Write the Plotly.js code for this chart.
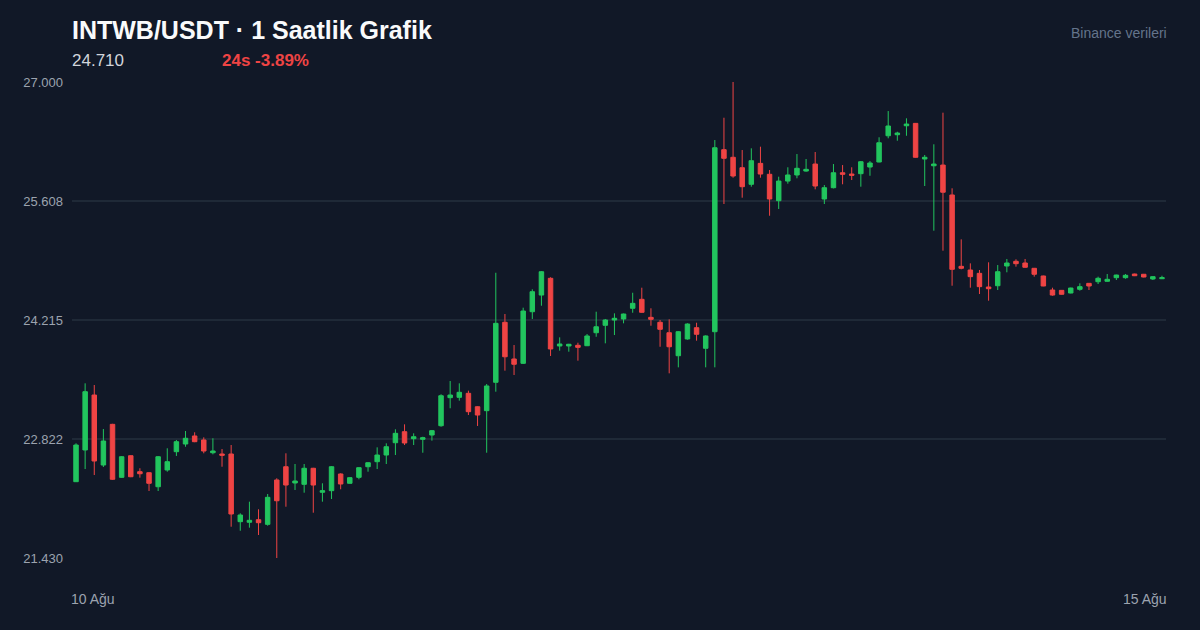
<!DOCTYPE html>
<html>
<head>
<meta charset="utf-8">
<script src="https://cdn.plot.ly/plotly-3.0.1.min.js"></script>
<style>
html,body{margin:0;padding:0;background:#111827;}
#chart{width:1200px;height:630px;}
</style>
</head>
<body>
<div id="chart"></div>
<script>
const titleText = "INTWB/USDT · 1 Saatlik Grafik";
const sourceText = "Binance verileri";
const dateLabels = ["10 Ağu", "15 Ağu"];

const opens = [22.323,22.694,23.337,22.518,22.994,22.374,22.627,22.440,22.428,22.264,
22.460,22.674,22.764,22.858,22.811,22.662,22.647,22.647,21.855,21.848,
21.878,21.824,22.343,22.498,22.308,22.292,22.480,22.199,22.218,22.413,
22.304,22.374,22.498,22.557,22.635,22.779,22.908,22.826,22.819,22.869,
22.978,23.306,23.310,23.357,23.200,23.154,23.486,24.188,23.759,23.708,
24.312,24.507,24.703,23.911,23.911,23.919,23.914,24.066,24.153,24.215,
24.227,24.352,24.457,24.246,24.188,24.066,23.797,23.993,24.125,23.884,
24.078,26.208,26.119,25.997,25.803,26.048,25.920,25.611,25.841,25.912,
25.958,26.040,25.631,25.763,25.938,25.923,25.927,26.005,26.064,26.371,
26.383,26.488,26.516,26.099,26.020,26.028,25.678,24.843,24.800,24.761,
24.601,24.616,24.847,24.902,24.882,24.820,24.730,24.566,24.562,24.531,
24.574,24.644,24.663,24.668,24.710,24.710,24.753,24.750,24.695,24.698];

const highs = [22.772,23.474,23.454,22.939,23.000,22.622,22.632,22.480,22.432,22.622,
22.714,22.811,22.916,22.901,22.842,22.831,22.705,22.752,21.953,22.089,
22.000,22.179,22.363,22.655,22.530,22.530,22.485,22.304,22.505,22.421,
22.375,22.490,22.550,22.725,22.772,22.936,22.994,22.889,22.849,22.928,
23.346,23.501,23.474,23.388,23.205,23.466,24.768,24.285,23.922,24.359,
24.574,24.788,24.715,24.012,23.936,23.949,24.051,24.312,24.227,24.293,
24.290,24.534,24.593,24.352,24.215,24.223,24.085,24.176,24.183,24.036,
26.321,26.582,27.000,26.204,26.224,26.243,25.970,25.892,26.002,26.157,
26.099,26.181,25.794,26.040,26.028,26.002,26.075,26.075,26.353,26.660,
26.418,26.575,26.520,26.146,26.271,26.641,25.756,25.159,24.878,24.800,
24.890,24.858,24.929,24.925,24.929,24.824,24.734,24.593,24.566,24.593,
24.644,24.648,24.722,24.753,24.745,24.753,24.757,24.754,24.725,24.733];

const lows = [22.319,22.471,22.401,22.495,22.345,22.368,22.376,22.370,22.214,22.214,
22.440,22.624,22.732,22.785,22.655,22.643,22.498,21.796,21.749,21.785,
21.699,21.808,21.430,22.030,22.226,22.194,21.960,22.089,22.120,22.234,
22.300,22.351,22.440,22.471,22.530,22.635,22.752,22.752,22.662,22.803,
22.966,23.182,23.271,23.103,22.975,22.662,23.376,23.622,23.571,23.700,
24.227,24.382,23.794,23.856,23.844,23.739,23.910,24.019,23.942,24.039,
24.176,24.300,24.300,24.148,23.902,23.591,23.661,23.985,23.973,23.661,
23.661,25.572,25.880,25.646,25.775,25.880,25.435,25.514,25.810,25.873,
25.950,25.744,25.572,25.755,25.803,25.853,25.775,25.903,26.060,26.341,
26.313,26.371,26.115,25.783,25.260,25.026,24.616,24.808,24.593,24.519,
24.441,24.566,24.773,24.839,24.828,24.722,24.610,24.499,24.512,24.527,
24.558,24.566,24.636,24.664,24.683,24.698,24.729,24.714,24.683,24.694];

const closes = [22.752,23.376,22.565,22.799,22.351,22.615,22.381,22.416,22.304,22.615,
22.557,22.791,22.831,22.791,22.682,22.682,22.632,21.945,21.933,21.871,
21.843,22.140,22.100,22.284,22.331,22.480,22.284,22.218,22.498,22.296,
22.370,22.487,22.545,22.635,22.732,22.889,22.776,22.849,22.838,22.920,
23.329,23.337,23.369,23.142,23.103,23.443,24.176,23.785,23.697,24.320,
24.546,24.780,23.876,23.934,23.931,23.895,24.028,24.136,24.215,24.235,
24.285,24.410,24.305,24.223,24.106,23.902,24.078,24.168,24.048,24.028,
26.231,26.107,25.900,25.775,26.079,25.923,25.631,25.841,25.912,25.990,
25.978,25.783,25.763,25.938,25.920,25.908,26.067,26.052,26.289,26.485,
26.403,26.508,26.119,26.119,26.040,25.710,24.808,24.820,24.722,24.605,
24.581,24.780,24.882,24.874,24.832,24.750,24.613,24.507,24.516,24.589,
24.605,24.613,24.703,24.691,24.741,24.738,24.733,24.718,24.722,24.710];

const xs = closes.map((_, i) => i);
const yMin = Math.min(...lows);
const yMax = Math.max(...highs);
const tickVals = [0,1,2,3,4].map(k => yMin + (yMax - yMin) * k / 4);
const tickText = tickVals.map(v => v.toFixed(3));

const last = closes[closes.length - 1];
const prev = closes[closes.length - 25];
const pct = (last - prev) / prev * 100;
const pctText = "24s " + (pct >= 0 ? "+" : "") + pct.toFixed(2) + "%";
const pctColor = pct >= 0 ? "#22c55e" : "#ef4444";

const UP = "#22c55e", DOWN = "#ef4444";
const FONT = "Liberation Sans, Arial, Helvetica, sans-serif";

const trace = {
  type: "candlestick",
  x: xs, open: opens, high: highs, low: lows, close: closes,
  increasing: {line: {color: UP, width: 1}, fillcolor: UP},
  decreasing: {line: {color: DOWN, width: 1}, fillcolor: DOWN},
  whiskerwidth: 0,
  hoverinfo: "skip",
  showlegend: false
};

const PH = 476;
const py = px => (558 - px) / PH;

const layout = {
  width: 1200, height: 630,
  paper_bgcolor: "#111827", plot_bgcolor: "#111827",
  margin: {l: 72, r: 34, t: 82, b: 72},
  font: {family: FONT, color: "#9ca3af"},
  showlegend: false,
  xaxis: {
    range: [-0.44, xs.length - 1 + 0.44],
    showgrid: false, zeroline: false, showline: false,
    showticklabels: false, ticks: "",
    rangeslider: {visible: false},
    fixedrange: true
  },
  yaxis: {
    range: [yMin, yMax],
    tickvals: tickVals, ticktext: tickText,
    showgrid: true, gridcolor: "#1f2937", gridwidth: 1.5,
    zeroline: false, showline: false, ticks: "",
    ticklabelstandoff: 8,
    tickfont: {size: 13, color: "#9ca3af", family: FONT},
    fixedrange: true
  },
  annotations: [
    {xref: "paper", yref: "paper", x: 0, y: py(30), xanchor: "left", yanchor: "middle", xshift: -2,
     text: "<b>" + titleText + "</b>", showarrow: false,
     font: {size: 25, color: "#f9fafb", family: FONT}},
    {xref: "paper", yref: "paper", x: 0, y: py(61), xanchor: "left", yanchor: "middle", xshift: -2,
     text: last.toFixed(3), showarrow: false,
     font: {size: 17, color: "#d1d5db", family: FONT}},
    {xref: "paper", yref: "paper", x: 150 / 1094, y: py(61), xanchor: "left", yanchor: "middle", xshift: -2,
     text: "<b>" + pctText + "</b>", showarrow: false,
     font: {size: 17, color: pctColor, family: FONT}},
    {xref: "paper", yref: "paper", x: 1, y: py(33), xanchor: "right", yanchor: "middle", xshift: 3,
     text: sourceText, showarrow: false,
     font: {size: 14, color: "#64748b", family: FONT}},
    {xref: "paper", yref: "paper", x: 0, y: py(599), xanchor: "left", yanchor: "middle", xshift: -3,
     text: dateLabels[0], showarrow: false,
     font: {size: 14, color: "#9ca3af", family: FONT}},
    {xref: "paper", yref: "paper", x: 1, y: py(599), xanchor: "right", yanchor: "middle", xshift: 3,
     text: dateLabels[1], showarrow: false,
     font: {size: 14, color: "#9ca3af", family: FONT}}
  ]
};

Plotly.newPlot("chart", [trace], layout, {displayModeBar: false, staticPlot: true});
</script>
</body>
</html>
